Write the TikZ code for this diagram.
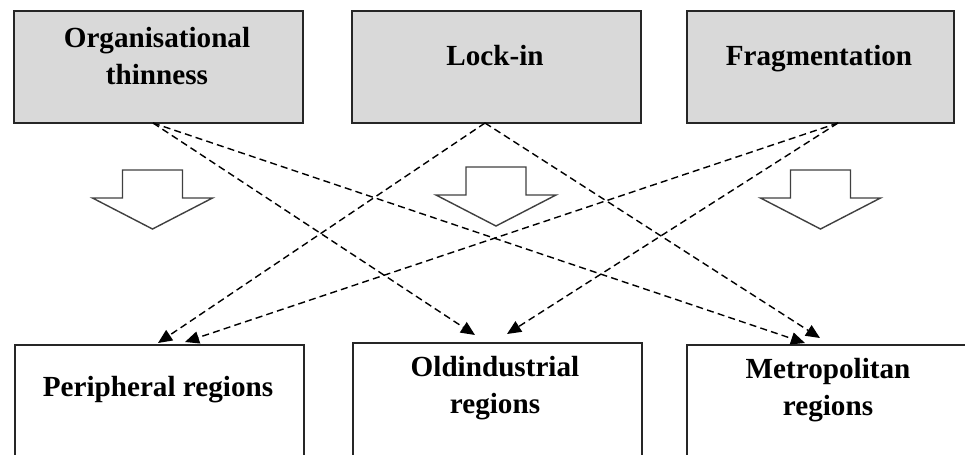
\documentclass[tikz,border=0pt]{standalone}
\usepackage{fontspec}
\setmainfont{Liberation Serif}
\usetikzlibrary{arrows.meta}
\definecolor{boxgray}{HTML}{D9D9D9}
\begin{document}
\begin{tikzpicture}[x=0.02cm,y=-0.02cm,
    topbox/.style={draw=black!85,line width=0.9pt,fill=boxgray,anchor=north west,minimum height=2.24cm},
    regionbox/.style={draw=black!85,line width=0.9pt,fill=white,anchor=north west,minimum height=2.5cm},
    boxtext/.style={align=center,font=\fontsize{16.6}{21}\selectfont\bfseries},
    blockarrow/.style={draw=black!75,line width=0.8pt,fill=white},
    link/.style={dash pattern=on 4pt off 2.4pt,line width=0.8pt,-{Triangle[length=8pt,width=7pt]}}]
    \useasboundingbox (0,0) rectangle (965,454);
    % top boxes
    \node[topbox,minimum width=5.78cm] (org) at (13,10) {};
    \node[topbox,minimum width=5.78cm] (lock) at (351,10) {};
    \node[topbox,minimum width=5.34cm] (frag) at (686,10) {};
    \node[boxtext] (orgtxt) at (157,56) {Organisational\\thinness};
    \node[boxtext] (locktxt) at (495,56) {Lock-in};
    \node[boxtext] (fragtxt) at (819,59) {Fragmentation};
    % region boxes
    \node[regionbox,minimum width=5.78cm] (peri) at (14,344) {};
    \node[regionbox,minimum width=5.78cm] (old) at (352,342) {};
    \node[regionbox,minimum width=5.8cm] (metro) at (686,344) {};
    \node[boxtext] (peritxt) at (158,390) {Peripheral regions};
    \node[boxtext] (oldtxt) at (495,388) {Oldindustrial\\regions};
    \node[boxtext] (metrotxt) at (828,390) {Metropolitan\\regions};
    % hollow block arrows
    \foreach \cx/\cy in {152.5/170,496/167,820.5/170}{%
        \draw[blockarrow] (\cx-30,\cy) -- (\cx+30,\cy) -- (\cx+30,\cy+28) -- (\cx+60,\cy+28)
            -- (\cx,\cy+59) -- (\cx-60,\cy+28) -- (\cx-30,\cy+28) -- cycle;
    }
    % start and end points of the dashed links
    \coordinate (orgout) at (153,123);
    \coordinate (lockout) at (485,123);
    \coordinate (fragout) at (838,123);
    \coordinate (periA) at (158,343);
    \coordinate (periB) at (185,342);
    \coordinate (oldA) at (475,335);
    \coordinate (oldB) at (507,334);
    \coordinate (metroA) at (805,343);
    \coordinate (metroB) at (820,338);
    \foreach \s/\t in {orgout/oldA,orgout/metroA,lockout/periA,lockout/metroB,fragout/periB,fragout/oldB}{%
        \draw[link] (\s) -- (\t);
    }
\end{tikzpicture}
\end{document}
